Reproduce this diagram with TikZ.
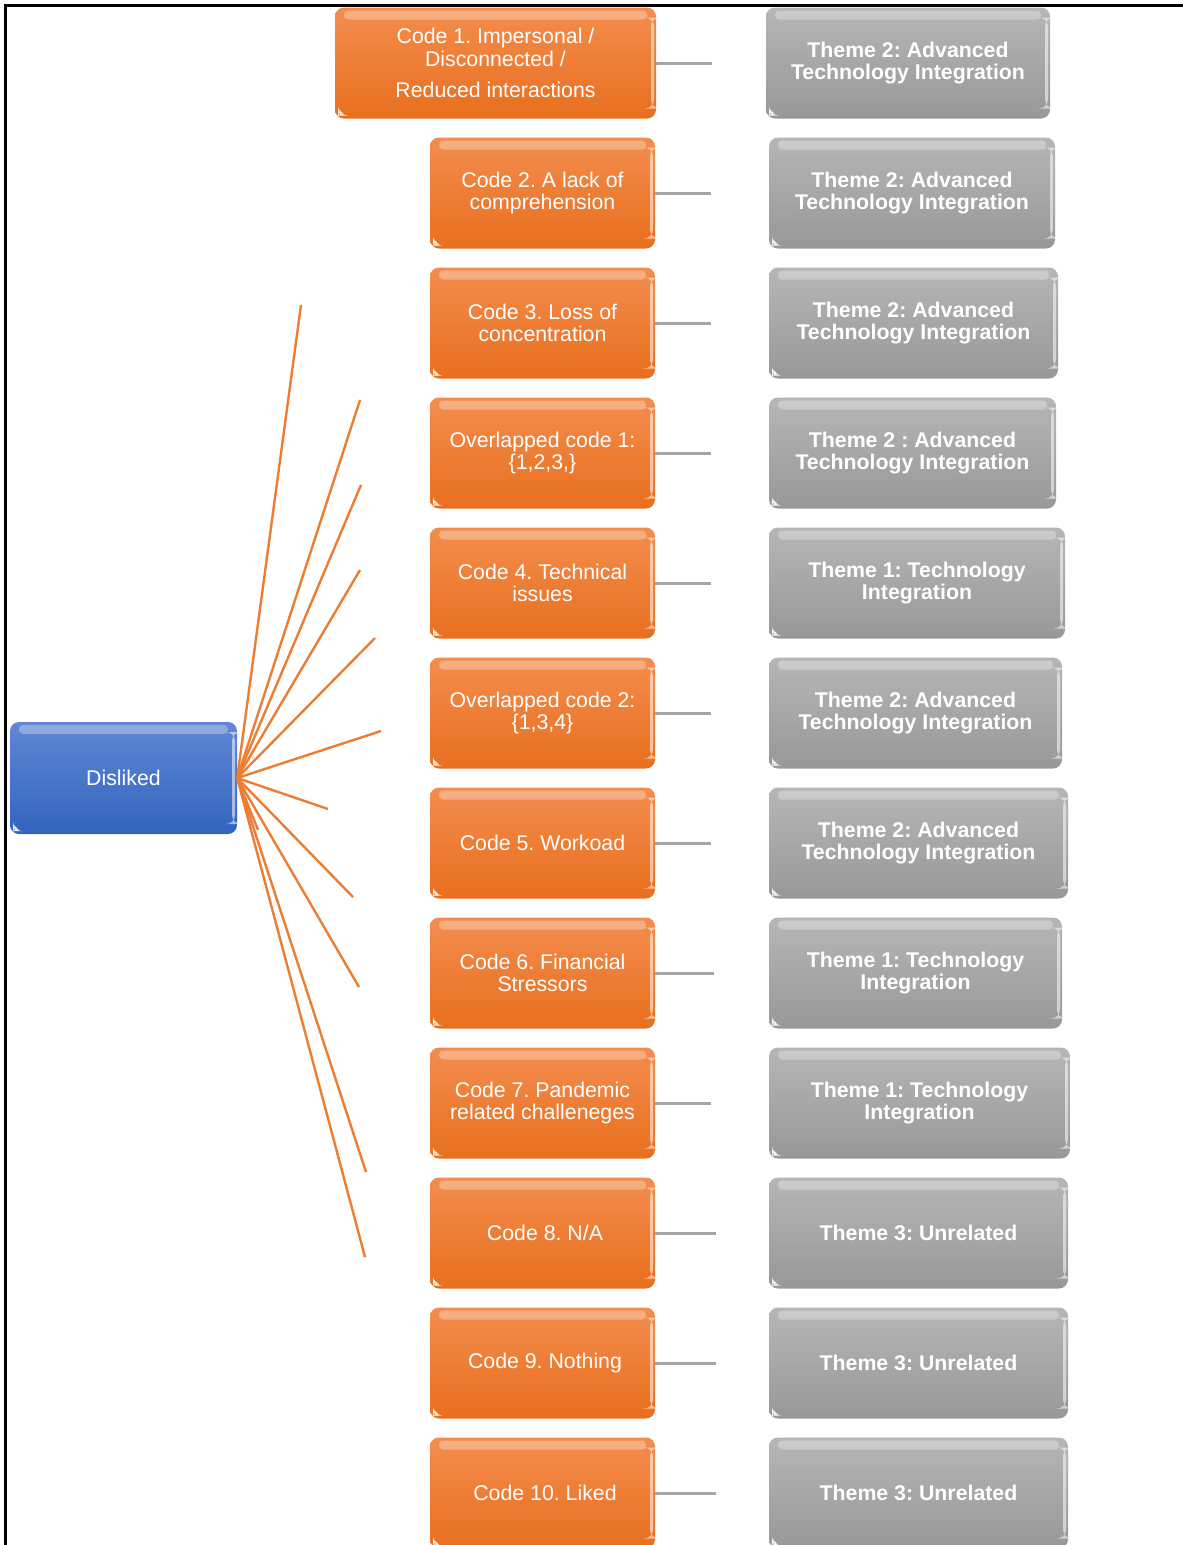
\documentclass[tikz,border=0pt]{standalone}
\usepackage{fontspec}
\setmainfont{Liberation Sans}
\frenchspacing
\definecolor{orTop}{RGB}{243,141,78}
\definecolor{orBot}{RGB}{232,111,30}
\definecolor{grTop}{RGB}{182,182,182}
\definecolor{grBot}{RGB}{152,152,152}
\definecolor{blTop}{RGB}{96,136,212}
\definecolor{blBot}{RGB}{50,100,190}
\definecolor{fanline}{RGB}{237,125,49}
\definecolor{linkline}{RGB}{165,165,165}
\newfontfamily\boxfont{Liberation Sans}
\tikzset{
  gloss/.style={path picture={
    % light band along the top edge
    \fill[white,opacity=0.3,rounded corners=4pt]
      ([xshift=9pt,yshift=-3pt]path picture bounding box.north west)
      rectangle ([xshift=-9pt,yshift=-12pt]path picture bounding box.north east);
    % light strip down the right edge
    \fill[white,opacity=0.55]
      ([xshift=-5pt,yshift=-10pt]path picture bounding box.north east)
      rectangle ([xshift=-2pt,yshift=10pt]path picture bounding box.south east);
    % small white corner tick at bottom left
    \fill[white,opacity=0.9]
      ([xshift=3pt,yshift=3pt]path picture bounding box.south west) --
      ([xshift=3pt,yshift=10pt]path picture bounding box.south west) --
      ([xshift=10pt,yshift=3pt]path picture bounding box.south west) -- cycle;
  }},
  basebox/.style={rounded corners=9pt, minimum height=111pt, inner sep=0pt,
    text=white, align=center, gloss},
  codebox/.style={basebox, top color=orTop, bottom color=orBot,
    minimum width=225pt, font=\boxfont\fontsize{21.3}{22.5}\selectfont},
  themebox/.style={basebox, top color=grTop, bottom color=grBot,
    font=\boxfont\bfseries\fontsize{21.3}{22.5}\selectfont},
  rootbox/.style={basebox, top color=blTop, bottom color=blBot,
    minimum width=227pt, minimum height=112pt,
    font=\boxfont\fontsize{21.3}{22.5}\selectfont},
  fan/.style={draw=fanline, line width=2.4pt},
  link/.style={draw=linkline, line width=3pt},
}
\begin{document}
\begin{tikzpicture}[x=1pt,y=-1pt]
\useasboundingbox (0,0) rectangle (1183,1545);
\clip (0,0) rectangle (1183,1545);

% frame
\draw[line width=2.6pt] (5.5,1545) -- (5.5,5.5) -- (1183,5.5);

% root
\node[rootbox] (dis) at (123.5,778) {Disliked};

% codes
\node[codebox, minimum width=321pt] (c1) at (495.5,63)
  {Code 1. Impersonal /\\Disconnected /\\[9pt]Reduced interactions};
\node[codebox] (c2)  at (542.5,193)  {Code 2. A lack of\\comprehension};
\node[codebox] (c3)  at (542.5,323)  {Code 3. Loss of\\concentration};
\node[codebox] (c4)  at (542.5,453)  {Overlapped code 1:\\\{1,2,3,\}};
\node[codebox] (c5)  at (542.5,583)  {Code 4. Technical\\issues};
\node[codebox] (c6)  at (542.5,713)  {Overlapped code 2:\\\{1,3,4\}};
\node[codebox] (c7)  at (542.5,843)  {Code 5. Workoad};
\node[codebox] (c8)  at (542.5,973)  {Code 6. Financial\\Stressors};
\node[codebox] (c9)  at (542.5,1103) {Code 7. Pandemic\\related challeneges};
\node[codebox] (c10) at (542.5,1233) {\hspace*{5pt}Code 8. N/A};
\node[codebox] (c11) at (542.5,1363) {\hspace*{5pt}Code 9. Nothing};
\node[codebox] (c12) at (542.5,1493) {\hspace*{5pt}Code 10. Liked};

% themes
\node[themebox, minimum width=284pt] (t1)  at (908,63)     {Theme 2: Advanced\\Technology Integration};
\node[themebox, minimum width=286pt] (t2)  at (912,193)    {Theme 2: Advanced\\Technology Integration};
\node[themebox, minimum width=289pt] (t3)  at (913.5,323)  {Theme 2: Advanced\\Technology Integration};
\node[themebox, minimum width=287pt] (t4)  at (912.5,453)  {Theme 2 : Advanced\\Technology Integration};
\node[themebox, minimum width=296pt] (t5)  at (917,583)    {Theme 1: Technology\\Integration};
\node[themebox, minimum width=293pt] (t6)  at (915.5,713)  {Theme 2: Advanced\\Technology Integration};
\node[themebox, minimum width=299pt] (t7)  at (918.5,843)  {Theme 2: Advanced\\Technology Integration};
\node[themebox, minimum width=293pt] (t8)  at (915.5,973)  {Theme 1: Technology\\Integration};
\node[themebox, minimum width=301pt] (t9)  at (919.5,1103) {Theme 1: Technology\\Integration};
\node[themebox, minimum width=299pt] (t10) at (918.5,1233) {Theme 3: Unrelated};
\node[themebox, minimum width=299pt] (t11) at (918.5,1363) {Theme 3: Unrelated};
\node[themebox, minimum width=299pt] (t12) at (918.5,1493) {Theme 3: Unrelated};

% short links leaving each code box
\foreach \i/\e in {1/712,2/711,3/711,4/711,5/711,6/711,7/711,8/714,9/711,10/716,11/716,12/716}{
  \coordinate (l\i) at (\e, 0 |- c\i.east);
  \draw[link] (c\i.east) -- (l\i);
}

% fan of lines from the root
\foreach \n/\p in {1/{301,305},2/{360,400},3/{361,485},4/{360,570},5/{375,638},
                   6/{381,731},7/{328,809},8/{258,830},9/{353,897},10/{359,987},
                   11/{366,1172},12/{365,1257}}{
  \coordinate (f\n) at (\p);
  \draw[fan] (dis.east) -- (f\n);
}
\end{tikzpicture}
\end{document}
